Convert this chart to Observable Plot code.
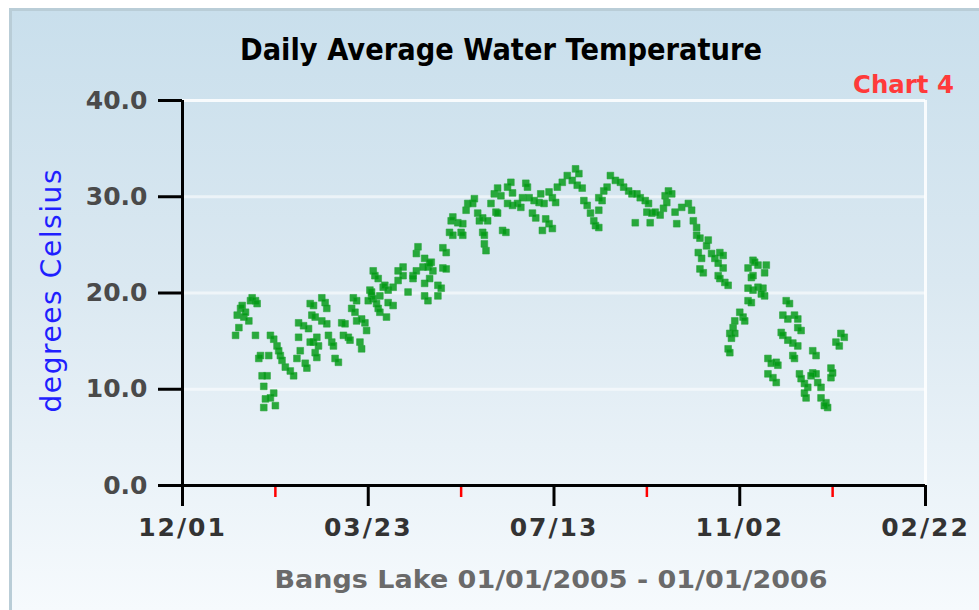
<!DOCTYPE html>
<html><head><meta charset="utf-8">
<script src="https://cdn.jsdelivr.net/npm/d3@7"></script>
<script src="https://cdn.jsdelivr.net/npm/@observablehq/plot@0.6"></script>
<style>
html,body{margin:0;padding:0;background:#fff;}
#wrap{position:relative;width:979px;height:610px;overflow:hidden;background:#fff;}
#panel{position:absolute;left:9px;top:8px;right:0;bottom:0;border-left:3px solid #b9cdd7;border-top:3px solid #b9cdd7;background:linear-gradient(to bottom,#c9dfec 0%,#dae8f1 45%,#f6fafd 100%);}
#chart{position:absolute;left:0;top:0;}
</style></head><body>
<div id="wrap"><div id="panel"></div><div id="chart"></div></div>
<script>
// Day offsets from 2005-01-01 and daily average temperatures (°C)
const dayOffsets = [1,2,3,4,5,6,7,9,10,11,13,14,13,15,16,17,18,18,19,20,21,22,24,25,22,24,26,27,28,29,31,34,36,38,39,40,43,44,39,42,45,46,48,47,49,53,56,53,55,56,50,48,51,49,50,46,57,59,60,61,63,65,67,66,69,70,72,74,71,73,74,77,79,80,76,77,82,83,84,86,88,90,87,88,92,
84,85,87,91,93,96,99,99,102,102,96,93,81,83,105,108,108,110,111,110,114,115,115,117,117,119,120,118,123,123,125,126,128,126,128,
130,132,131,132,135,138,137,138,140,141,144,145,147,148,150,153,150,151,151,152,155,157,159,161,158,159,162,164,165,167,168,165,168,171,173,176,177,174,178,181,184,185,187,180,182,186,
190,192,194,195,198,201,204,206,208,207,210,211,213,215,217,218,220,220,222,223,225,227,230,233,235,238,240,243,245,248,249,242,188,190,192,
250,252,251,254,257,259,260,262,264,261,266,267,270,274,276,277,279,279,281,286,285,280,282,281,283,288,290,293,295,292,295,292,293,296,298,
298,299,299,300,301,302,302,305,307,308,310,310,313,312,310,313,314,316,321,320,313,316,319,320,312,318,322,324,327,328,322,325,327,333,335,331,334,338,340,340,342,330,331,334,337,340,337,338,341,342,344,346,344,345,349,351,349,351,348,352,354,354,357,358,356,360,361,360,366,368,363,365,
115,118,220];
const temperatures = [15.6,17.7,16.4,18.4,18.7,17.5,18.0,17.1,19.2,19.5,19.2,18.9,15.6,13.2,13.5,11.4,10.3,8.1,9.0,11.4,13.5,9.1,9.6,8.3,15.6,15.2,14.5,14.0,13.5,13.0,12.3,11.9,11.4,13.2,15.4,14.0,12.7,12.2,16.9,16.6,16.3,18.9,18.7,17.7,17.5,17.1,16.8,19.5,19.0,18.4,15.4,14.9,14.5,13.8,13.3,14.9,15.6,14.9,14.5,13.2,12.8,16.9,16.8,15.6,15.4,15.1,19.5,19.2,18.4,18.0,17.1,17.3,16.9,16.1,14.9,14.2,20.3,19.7,19.4,18.9,19.7,20.6,18.4,18.0,17.5,
22.3,21.8,21.5,20.8,20.3,20.6,21.3,22.3,22.7,21.8,18.7,19.0,19.2,20.1,20.1,21.8,21.5,24.1,24.8,22.3,22.7,21.0,19.7,19.2,22.7,23.2,22.3,21.5,20.8,19.7,20.5,22.6,22.5,24.7,24.2,
26.3,26.0,27.5,27.9,27.3,27.2,26.3,26.0,28.6,29.3,29.3,29.8,28.3,27.5,27.8,27.5,26.3,26.0,25.1,24.4,29.3,30.3,30.9,30.1,28.4,28.3,26.5,26.3,31.0,31.5,30.4,29.3,29.1,29.3,28.9,31.4,31.0,29.9,29.9,29.6,29.4,30.3,29.3,28.3,27.8,26.5,
30.5,29.9,29.4,31.0,31.5,32.2,31.7,32.9,32.4,31.2,30.9,29.6,29.1,28.3,27.5,27.0,28.6,29.9,29.6,30.6,31.0,32.2,31.7,31.5,31.0,30.6,30.3,30.3,29.9,29.6,28.4,27.3,27.7,27.2,26.7,
29.3,28.3,27.3,28.4,28.1,28.8,30.1,30.6,30.3,29.4,28.4,27.2,28.9,29.3,28.6,27.5,26.8,26.0,25.7,25.5,24.9,24.2,23.6,22.5,22.1,24.1,23.6,24.2,23.9,23.1,22.6,21.8,21.5,21.1,20.8,
14.2,13.8,15.8,15.3,16.4,17.1,15.8,18.0,17.5,17.1,19.2,20.5,20.3,21.6,22.6,23.4,23.2,22.9,22.9,22.1,21.8,20.6,20.5,19.7,19.0,19.9,13.2,12.7,12.8,12.5,11.6,11.2,10.7,19.2,18.9,17.7,17.3,17.7,17.3,16.4,16.1,15.9,15.6,15.1,14.8,14.5,13.5,13.2,11.6,11.1,10.6,10.2,9.6,9.1,14.0,13.5,11.7,11.6,11.4,10.7,10.2,9.1,8.6,8.1,8.3,12.2,11.7,11.2,15.8,15.4,14.9,14.5,
23.6,23.1,26.8];

const xDomain = ["2004-12-01", "2006-02-22"];
const majorTickDates = ["2004-12-01", "2005-03-23", "2005-07-13", "2005-11-02", "2006-02-22"];
const minorTickDates = ["2005-01-26", "2005-05-18", "2005-09-07", "2005-12-28"];
const yTicks = [0, 10, 20, 30, 40];
const gridTicks = [10, 20, 30];

const chartTitle = "Daily Average Water Temperature";
const chartTag = "Chart 4";
const yTitle = "degrees Celsius";
const xTitle = "Bangs Lake 01/01/2005 - 01/01/2006";

const parse = d3.utcParse("%Y-%m-%d");
const data = dayOffsets.map((d, i) => ({date: new Date(Date.UTC(2005, 0, 1 + d)), temp: temperatures[i]}));
const dom = xDomain.map(parse);

const plot = Plot.plot({
  width: 979, height: 610,
  marginLeft: 182, marginRight: 54, marginTop: 100, marginBottom: 125,
  x: {type: "utc", domain: dom, axis: null},
  y: {domain: [0, 40], axis: null},
  style: {background: "transparent", fontFamily: "DejaVu Sans, Verdana, sans-serif", overflow: "visible"},
  marks: [
    Plot.gridY(gridTicks, {stroke: "#ffffff", strokeOpacity: 0.55, strokeWidth: 3}),
    Plot.ruleY([40], {stroke: "#ffffff", strokeOpacity: 0.85, strokeWidth: 3}),
    Plot.ruleX([dom[1]], {stroke: "#ffffff", strokeOpacity: 0.85, strokeWidth: 3}),
    Plot.dot(data, {x: "date", y: "temp", symbol: "square", r: 3.8, fill: "#009a12", fillOpacity: 0.82, stroke: "#2aa43c", strokeWidth: 0.8, strokeOpacity: 0.7}),
    Plot.axisY(yTicks, {tickSize: 24, tickPadding: 11, stroke: "#000", strokeWidth: 3, fill: "#4a4a4a",
      fontSize: 25, fontWeight: "bold", tickFormat: d => d.toFixed(1), label: null}),
    Plot.axisX(minorTickDates.map(parse), {tickSize: 12, stroke: "#ff0000", strokeWidth: 2.5, tickFormat: () => "", label: null}),
    Plot.axisX(majorTickDates.map(parse), {tickSize: 21, tickPadding: 12, stroke: "#000", strokeWidth: 3, fill: "#333",
      fontSize: 25, fontWeight: "bold", tickFormat: d3.utcFormat("%m/%d"), label: null}),
    Plot.ruleY([0], {stroke: "#000", strokeWidth: 3}),
    Plot.ruleX([dom[0]], {stroke: "#000", strokeWidth: 3})
  ]
});
document.getElementById("chart").appendChild(plot);

const svg = d3.select(plot);
svg.selectAll("text").filter(function(){ return /^\d\d\/\d\d$/.test(this.textContent); })
  .attr("letter-spacing", "2px");

svg.append("text").text(chartTitle)
  .attr("x", 501).attr("y", 60).attr("text-anchor", "middle")
  .attr("font-family", "DejaVu Sans, sans-serif").attr("font-weight", "bold").attr("font-size", 30)
  .attr("textLength", 522).attr("lengthAdjust", "spacingAndGlyphs").attr("fill", "#000");
svg.append("text").text(chartTag)
  .attr("x", 853).attr("y", 93).attr("text-anchor", "start")
  .attr("font-family", "DejaVu Sans, sans-serif").attr("font-weight", "bold").attr("font-size", 25)
  .attr("textLength", 101).attr("lengthAdjust", "spacingAndGlyphs").attr("fill", "#ff3a3a");
svg.append("text").text(yTitle)
  .attr("transform", "translate(61,291) rotate(-90)").attr("text-anchor", "middle")
  .attr("font-family", "DejaVu Sans, sans-serif").attr("font-size", 28)
  .attr("textLength", 243).attr("lengthAdjust", "spacing").attr("fill", "#1f1fff");
svg.append("text").text(xTitle)
  .attr("x", 551).attr("y", 588).attr("text-anchor", "middle")
  .attr("font-family", "DejaVu Sans, sans-serif").attr("font-weight", "bold").attr("font-size", 25)
  .attr("textLength", 553).attr("lengthAdjust", "spacingAndGlyphs").attr("fill", "#6a6a6a");
</script>
</body></html>
